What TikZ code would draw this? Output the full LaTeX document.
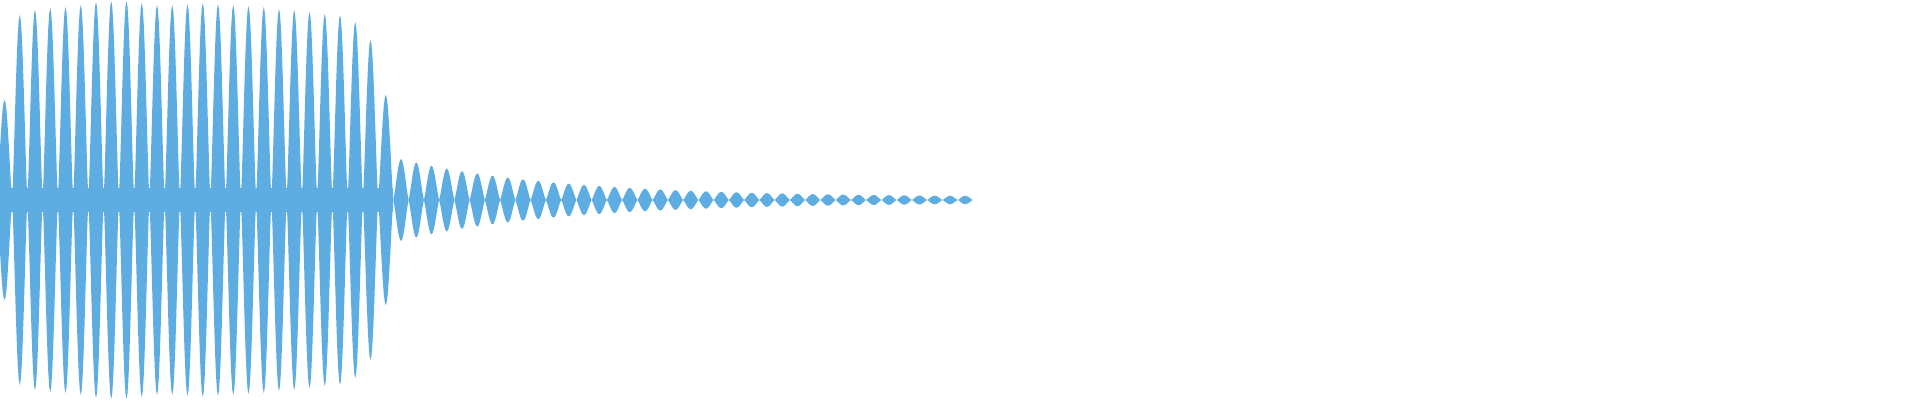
\documentclass[tikz,border=0pt]{standalone}
\definecolor{wave}{RGB}{93,173,226}
\begin{document}
\begin{tikzpicture}[x=1pt,y=1pt]
        \useasboundingbox (0,0) rectangle (1920,400);
        \fill[wave] (0,188) rectangle (393,212);
        \foreach \a [count=\k from 0] in {100,185,190,192,193,195,198,199,199,197,195,195,196,197,196,195,194,193,191,190,188,186,185,178,160,105} {
            \pgfmathsetmacro{\c}{4.5+15.25*\k}
            \fill[wave] plot[domain=-7.6:7.6, samples=17] ({\c+\x},{200+\a*pow(cos(\x*180/15.25),1.3)})
                -- plot[domain=7.6:-7.6, samples=17] ({\c+\x},{200-\a*pow(cos(\x*180/15.25),1.3)}) -- cycle;
        }
        \foreach \k in {26,...,63} {
            \pgfmathsetmacro{\c}{4.5+15.25*\k}
            \pgfmathsetmacro{\a}{38*exp(-(\c-401)/160)+3}
            \fill[wave] plot[domain=-7.6:7.6, samples=13] ({\c+\x},{200+\a*pow(cos(\x*180/15.25),1.3)})
                -- plot[domain=7.6:-7.6, samples=13] ({\c+\x},{200-\a*pow(cos(\x*180/15.25),1.3)}) -- cycle;
        }
    \end{tikzpicture}
\end{document}
